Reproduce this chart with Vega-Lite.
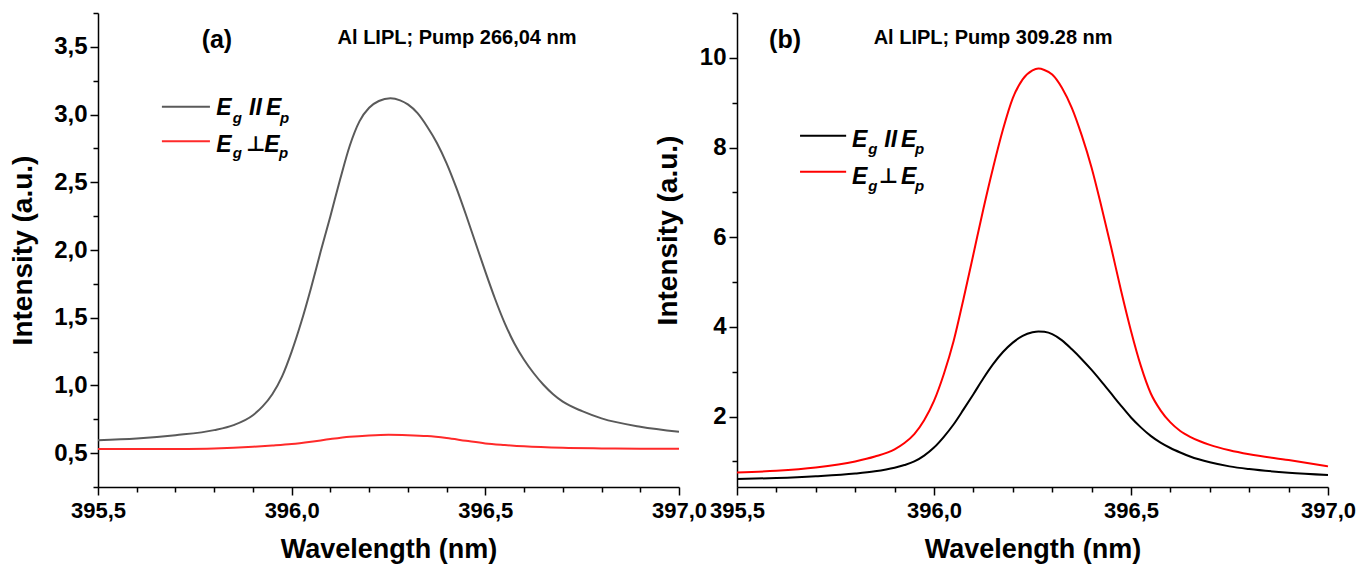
{
  "$schema": "https://vega.github.io/schema/vega-lite/v6.json",
  "background": "white",
  "padding": {"left": 9, "top": 1, "right": 5, "bottom": 2},
  "bounds": "flush",
  "spacing": 58,
  "resolve": {"scale": {"color": "independent", "x": "independent", "y": "independent"}},
  "config": {
    "view": {"stroke": null},
    "font": "Liberation Sans",
    "axis": {
      "grid": false,
      "domainColor": "black",
      "domainWidth": 1.5,
      "tickColor": "black",
      "tickWidth": 1.5,
      "labelFont": "Liberation Sans",
      "labelFontWeight": "bold",
      "labelFontSize": 24,
      "labelColor": "black",
      "labelFlush": false,
      "labelOverlap": false,
      "labelBound": false,
      "titleFont": "Liberation Sans",
      "titleFontWeight": "bold",
      "titleColor": "black"
    }
  },
  "datasets": {
    "a_curves": [
      {"wl": 395.5, "I": 0.596, "s": "par"}, {"wl": 395.6, "I": 0.609, "s": "par"}, {"wl": 395.7, "I": 0.633, "s": "par"},
      {"wl": 395.8, "I": 0.670, "s": "par"}, {"wl": 395.85, "I": 0.707, "s": "par"}, {"wl": 395.9, "I": 0.780, "s": "par"},
      {"wl": 395.925, "I": 0.845, "s": "par"}, {"wl": 395.95, "I": 0.935, "s": "par"}, {"wl": 395.975, "I": 1.065, "s": "par"},
      {"wl": 396.0, "I": 1.25, "s": "par"}, {"wl": 396.025, "I": 1.47, "s": "par"}, {"wl": 396.05, "I": 1.72, "s": "par"},
      {"wl": 396.075, "I": 1.99, "s": "par"}, {"wl": 396.1, "I": 2.25, "s": "par"}, {"wl": 396.125, "I": 2.52, "s": "par"},
      {"wl": 396.15, "I": 2.77, "s": "par"}, {"wl": 396.175, "I": 2.95, "s": "par"}, {"wl": 396.2, "I": 3.05, "s": "par"},
      {"wl": 396.225, "I": 3.10, "s": "par"}, {"wl": 396.255, "I": 3.12, "s": "par"}, {"wl": 396.28, "I": 3.105, "s": "par"},
      {"wl": 396.3, "I": 3.075, "s": "par"}, {"wl": 396.325, "I": 3.01, "s": "par"}, {"wl": 396.35, "I": 2.91, "s": "par"},
      {"wl": 396.375, "I": 2.79, "s": "par"}, {"wl": 396.4, "I": 2.64, "s": "par"}, {"wl": 396.425, "I": 2.46, "s": "par"},
      {"wl": 396.45, "I": 2.26, "s": "par"}, {"wl": 396.475, "I": 2.05, "s": "par"}, {"wl": 396.5, "I": 1.84, "s": "par"},
      {"wl": 396.525, "I": 1.64, "s": "par"}, {"wl": 396.55, "I": 1.46, "s": "par"}, {"wl": 396.575, "I": 1.31, "s": "par"},
      {"wl": 396.6, "I": 1.19, "s": "par"}, {"wl": 396.625, "I": 1.09, "s": "par"}, {"wl": 396.65, "I": 1.005, "s": "par"},
      {"wl": 396.675, "I": 0.935, "s": "par"}, {"wl": 396.7, "I": 0.88, "s": "par"}, {"wl": 396.75, "I": 0.81, "s": "par"},
      {"wl": 396.8, "I": 0.757, "s": "par"}, {"wl": 396.9, "I": 0.695, "s": "par"}, {"wl": 397.0, "I": 0.658, "s": "par"},
      {"wl": 395.5, "I": 0.530, "s": "perp"}, {"wl": 395.6, "I": 0.530, "s": "perp"}, {"wl": 395.7, "I": 0.531, "s": "perp"},
      {"wl": 395.8, "I": 0.535, "s": "perp"}, {"wl": 395.9, "I": 0.547, "s": "perp"}, {"wl": 395.95, "I": 0.556, "s": "perp"},
      {"wl": 396.0, "I": 0.567, "s": "perp"}, {"wl": 396.05, "I": 0.584, "s": "perp"}, {"wl": 396.1, "I": 0.604, "s": "perp"},
      {"wl": 396.15, "I": 0.621, "s": "perp"}, {"wl": 396.2, "I": 0.631, "s": "perp"}, {"wl": 396.25, "I": 0.636, "s": "perp"},
      {"wl": 396.3, "I": 0.633, "s": "perp"}, {"wl": 396.35, "I": 0.626, "s": "perp"}, {"wl": 396.4, "I": 0.611, "s": "perp"},
      {"wl": 396.45, "I": 0.591, "s": "perp"}, {"wl": 396.5, "I": 0.572, "s": "perp"}, {"wl": 396.55, "I": 0.560, "s": "perp"},
      {"wl": 396.6, "I": 0.550, "s": "perp"}, {"wl": 396.7, "I": 0.539, "s": "perp"}, {"wl": 396.8, "I": 0.535, "s": "perp"},
      {"wl": 396.9, "I": 0.533, "s": "perp"}, {"wl": 397.0, "I": 0.532, "s": "perp"}
    ],
    "b_curves": [
      {"wl": 395.5, "I": 0.606, "s": "par"}, {"wl": 395.6, "I": 0.63, "s": "par"}, {"wl": 395.7, "I": 0.67, "s": "par"},
      {"wl": 395.8, "I": 0.73, "s": "par"}, {"wl": 395.85, "I": 0.78, "s": "par"}, {"wl": 395.9, "I": 0.86, "s": "par"},
      {"wl": 395.925, "I": 0.92, "s": "par"}, {"wl": 395.95, "I": 1.0, "s": "par"}, {"wl": 395.975, "I": 1.13, "s": "par"},
      {"wl": 396.0, "I": 1.31, "s": "par"}, {"wl": 396.025, "I": 1.55, "s": "par"}, {"wl": 396.05, "I": 1.83, "s": "par"},
      {"wl": 396.075, "I": 2.16, "s": "par"}, {"wl": 396.1, "I": 2.5, "s": "par"}, {"wl": 396.125, "I": 2.85, "s": "par"},
      {"wl": 396.15, "I": 3.17, "s": "par"}, {"wl": 396.175, "I": 3.44, "s": "par"}, {"wl": 396.2, "I": 3.65, "s": "par"},
      {"wl": 396.225, "I": 3.80, "s": "par"}, {"wl": 396.25, "I": 3.88, "s": "par"}, {"wl": 396.265, "I": 3.90, "s": "par"},
      {"wl": 396.28, "I": 3.89, "s": "par"}, {"wl": 396.3, "I": 3.84, "s": "par"}, {"wl": 396.325, "I": 3.70, "s": "par"},
      {"wl": 396.35, "I": 3.50, "s": "par"}, {"wl": 396.375, "I": 3.28, "s": "par"}, {"wl": 396.4, "I": 3.04, "s": "par"},
      {"wl": 396.425, "I": 2.78, "s": "par"}, {"wl": 396.45, "I": 2.51, "s": "par"}, {"wl": 396.475, "I": 2.24, "s": "par"},
      {"wl": 396.5, "I": 1.98, "s": "par"}, {"wl": 396.525, "I": 1.76, "s": "par"}, {"wl": 396.55, "I": 1.57, "s": "par"},
      {"wl": 396.575, "I": 1.42, "s": "par"}, {"wl": 396.6, "I": 1.30, "s": "par"}, {"wl": 396.625, "I": 1.20, "s": "par"},
      {"wl": 396.65, "I": 1.11, "s": "par"}, {"wl": 396.7, "I": 0.98, "s": "par"}, {"wl": 396.75, "I": 0.89, "s": "par"},
      {"wl": 396.8, "I": 0.83, "s": "par"}, {"wl": 396.9, "I": 0.75, "s": "par"}, {"wl": 397.0, "I": 0.70, "s": "par"},
      {"wl": 395.5, "I": 0.753, "s": "perp"}, {"wl": 395.6, "I": 0.79, "s": "perp"}, {"wl": 395.7, "I": 0.864, "s": "perp"},
      {"wl": 395.8, "I": 1.0, "s": "perp"}, {"wl": 395.85, "I": 1.11, "s": "perp"}, {"wl": 395.9, "I": 1.27, "s": "perp"},
      {"wl": 395.925, "I": 1.41, "s": "perp"}, {"wl": 395.95, "I": 1.61, "s": "perp"}, {"wl": 395.975, "I": 1.92, "s": "perp"},
      {"wl": 396.0, "I": 2.35, "s": "perp"}, {"wl": 396.025, "I": 2.95, "s": "perp"}, {"wl": 396.05, "I": 3.69, "s": "perp"},
      {"wl": 396.075, "I": 4.63, "s": "perp"}, {"wl": 396.1, "I": 5.62, "s": "perp"}, {"wl": 396.125, "I": 6.62, "s": "perp"},
      {"wl": 396.15, "I": 7.55, "s": "perp"}, {"wl": 396.175, "I": 8.40, "s": "perp"}, {"wl": 396.2, "I": 9.1, "s": "perp"},
      {"wl": 396.225, "I": 9.52, "s": "perp"}, {"wl": 396.25, "I": 9.72, "s": "perp"}, {"wl": 396.265, "I": 9.76, "s": "perp"},
      {"wl": 396.28, "I": 9.73, "s": "perp"}, {"wl": 396.3, "I": 9.63, "s": "perp"}, {"wl": 396.325, "I": 9.33, "s": "perp"},
      {"wl": 396.35, "I": 8.88, "s": "perp"}, {"wl": 396.375, "I": 8.27, "s": "perp"}, {"wl": 396.4, "I": 7.55, "s": "perp"},
      {"wl": 396.425, "I": 6.68, "s": "perp"}, {"wl": 396.45, "I": 5.76, "s": "perp"}, {"wl": 396.475, "I": 4.80, "s": "perp"},
      {"wl": 396.5, "I": 3.91, "s": "perp"}, {"wl": 396.525, "I": 3.13, "s": "perp"}, {"wl": 396.55, "I": 2.52, "s": "perp"},
      {"wl": 396.575, "I": 2.14, "s": "perp"}, {"wl": 396.6, "I": 1.87, "s": "perp"}, {"wl": 396.625, "I": 1.68, "s": "perp"},
      {"wl": 396.65, "I": 1.55, "s": "perp"}, {"wl": 396.675, "I": 1.45, "s": "perp"}, {"wl": 396.7, "I": 1.37, "s": "perp"},
      {"wl": 396.75, "I": 1.25, "s": "perp"}, {"wl": 396.8, "I": 1.16, "s": "perp"}, {"wl": 396.9, "I": 1.03, "s": "perp"},
      {"wl": 397.0, "I": 0.89, "s": "perp"}
    ],
    "a_leg_lines": [
      {"s": "par", "wl": 395.665, "wl2": 395.789, "I": 3.058},
      {"s": "perp", "wl": 395.665, "wl2": 395.789, "I": 2.803}
    ],
    "a_leg_main": [
      {"t": "E", "wl": 395.805, "I": 3.052}, {"t": "II", "wl": 395.890, "I": 3.052}, {"t": "E", "wl": 395.934, "I": 3.052},
      {"t": "E", "wl": 395.805, "I": 2.779}, {"t": "E", "wl": 395.929, "I": 2.779}
    ],
    "a_leg_sym": [{"t": "⊥", "wl": 395.882, "I": 2.779}],
    "a_leg_sub": [
      {"t": "g", "wl": 395.848, "I": 2.975}, {"t": "p", "wl": 395.970, "I": 2.975},
      {"t": "g", "wl": 395.848, "I": 2.716}, {"t": "p", "wl": 395.967, "I": 2.716}
    ],
    "a_tag": [{"t": "(a)", "wl": 395.807, "I": 3.551}],
    "a_ann": [{"t": "Al LIPL; Pump 266,04 nm", "wl": 396.427, "I": 3.565}],
    "b_leg_lines": [
      {"s": "par", "wl": 395.66, "wl2": 395.777, "I": 8.265},
      {"s": "perp", "wl": 395.66, "wl2": 395.777, "I": 7.462}
    ],
    "b_leg_main": [
      {"t": "E", "wl": 395.792, "I": 8.169}, {"t": "II", "wl": 395.874, "I": 8.169}, {"t": "E", "wl": 395.916, "I": 8.169},
      {"t": "E", "wl": 395.792, "I": 7.343}, {"t": "E", "wl": 395.916, "I": 7.343}
    ],
    "b_leg_sym": [{"t": "⊥", "wl": 395.860, "I": 7.343}],
    "b_leg_sub": [
      {"t": "g", "wl": 395.833, "I": 7.968}, {"t": "p", "wl": 395.952, "I": 7.968},
      {"t": "g", "wl": 395.833, "I": 7.143}, {"t": "p", "wl": 395.952, "I": 7.143}
    ],
    "b_tag": [{"t": "(b)", "wl": 395.622, "I": 10.40}],
    "b_ann": [{"t": "Al LIPL; Pump 309.28 nm", "wl": 396.150, "I": 10.44}]
  },
  "hconcat": [
    {
      "width": 581,
      "height": 474,
      "encoding": {
        "x": {
          "field": "wl", "type": "quantitative",
          "scale": {"domain": [395.5, 397.0], "nice": false, "zero": false},
          "axis": {
            "title": "Wavelength (nm)",
            "titleFontSize": 27,
            "labelFontSize": 22,
            "values": [395.5, 395.6, 395.7, 395.8, 395.9, 396.0, 396.1, 396.2, 396.3, 396.4, 396.5, 396.6, 396.7, 396.8, 396.9, 397.0],
            "labelExpr": "abs(datum.value*2 - round(datum.value*2)) < 0.001 ? replace(format(datum.value, '.1f'), '.', ',') : ''",
            "tickSize": {"condition": {"test": "abs(datum.value*2 - round(datum.value*2)) < 0.001", "value": 8}, "value": 5},
            "labelPadding": 5,
            "titlePadding": 15
          }
        },
        "y": {
          "field": "I", "type": "quantitative",
          "scale": {"domain": [0.25, 3.75], "nice": false, "zero": false},
          "axis": {
            "title": "Intensity (a.u.)",
            "titleFontSize": 28,
            "values": [0.25, 0.5, 0.75, 1.0, 1.25, 1.5, 1.75, 2.0, 2.25, 2.5, 2.75, 3.0, 3.25, 3.5, 3.75],
            "labelExpr": "abs(datum.value*2 - round(datum.value*2)) < 0.001 ? replace(format(datum.value, '.1f'), '.', ',') : ''",
            "tickSize": {"condition": {"test": "abs(datum.value*2 - round(datum.value*2)) < 0.001", "value": 8}, "value": 5},
            "labelPadding": 3,
            "titlePadding": 16
          }
        }
      },
      "layer": [
        {
          "data": {"name": "a_curves"},
          "mark": {"type": "line", "strokeWidth": 2, "interpolate": "monotone"},
          "encoding": {
            "color": {
              "field": "s", "type": "nominal",
              "scale": {"domain": ["par", "perp"], "range": ["#5a5a5a", "#ff2a2a"]},
              "legend": null
            }
          }
        },
        {
          "data": {"name": "a_leg_lines"},
          "mark": {"type": "rule", "strokeWidth": 2},
          "encoding": {
            "x2": {"field": "wl2"},
            "color": {"field": "s", "type": "nominal", "legend": null}
          }
        },
        {
          "data": {"name": "a_leg_main"},
          "mark": {"type": "text", "align": "left", "baseline": "middle", "fontSize": 23, "fontWeight": "bold", "fontStyle": "italic", "font": "Liberation Sans", "color": "black"},
          "encoding": {"text": {"field": "t"}}
        },
        {
          "data": {"name": "a_leg_sym"},
          "mark": {"type": "text", "align": "left", "baseline": "middle", "fontSize": 21, "fontWeight": "bold", "font": "DejaVu Sans", "color": "black"},
          "encoding": {"text": {"field": "t"}}
        },
        {
          "data": {"name": "a_leg_sub"},
          "mark": {"type": "text", "align": "left", "baseline": "middle", "fontSize": 15, "fontWeight": "bold", "fontStyle": "italic", "font": "Liberation Sans", "color": "black"},
          "encoding": {"text": {"field": "t"}}
        },
        {
          "data": {"name": "a_tag"},
          "mark": {"type": "text", "align": "center", "baseline": "middle", "fontSize": 25, "fontWeight": "bold", "font": "Liberation Sans", "color": "black"},
          "encoding": {"text": {"field": "t"}}
        },
        {
          "data": {"name": "a_ann"},
          "mark": {"type": "text", "align": "center", "baseline": "middle", "fontSize": 20, "fontWeight": "bold", "font": "Liberation Sans", "color": "black"},
          "encoding": {"text": {"field": "t"}}
        }
      ]
    },
    {
      "width": 591,
      "height": 474,
      "encoding": {
        "x": {
          "field": "wl", "type": "quantitative",
          "scale": {"domain": [395.5, 397.0], "nice": false, "zero": false},
          "axis": {
            "title": "Wavelength (nm)",
            "titleFontSize": 27,
            "labelFontSize": 22,
            "values": [395.5, 395.6, 395.7, 395.8, 395.9, 396.0, 396.1, 396.2, 396.3, 396.4, 396.5, 396.6, 396.7, 396.8, 396.9, 397.0],
            "labelExpr": "abs(datum.value*2 - round(datum.value*2)) < 0.001 ? replace(format(datum.value, '.1f'), '.', ',') : ''",
            "tickSize": {"condition": {"test": "abs(datum.value*2 - round(datum.value*2)) < 0.001", "value": 8}, "value": 5},
            "labelPadding": 5,
            "titlePadding": 15
          }
        },
        "y": {
          "field": "I", "type": "quantitative",
          "scale": {"domain": [0.43, 11.0], "nice": false, "zero": false},
          "axis": {
            "title": "Intensity (a.u.)",
            "titleFontSize": 28,
            "titleY": 217,
            "values": [1, 2, 3, 4, 5, 6, 7, 8, 9, 10, 11],
            "labelExpr": "datum.value % 2 == 0 ? format(datum.value, 'd') : ''",
            "tickSize": {"condition": {"test": "datum.value % 2 == 0", "value": 8}, "value": 5},
            "labelPadding": 3,
            "titlePadding": 17
          }
        }
      },
      "layer": [
        {
          "data": {"name": "b_curves"},
          "mark": {"type": "line", "strokeWidth": 2, "interpolate": "monotone"},
          "encoding": {
            "color": {
              "field": "s", "type": "nominal",
              "scale": {"domain": ["par", "perp"], "range": ["#000000", "#ff0000"]},
              "legend": null
            }
          }
        },
        {
          "data": {"name": "b_leg_lines"},
          "mark": {"type": "rule", "strokeWidth": 2},
          "encoding": {
            "x2": {"field": "wl2"},
            "color": {"field": "s", "type": "nominal", "legend": null}
          }
        },
        {
          "data": {"name": "b_leg_main"},
          "mark": {"type": "text", "align": "left", "baseline": "middle", "fontSize": 23, "fontWeight": "bold", "fontStyle": "italic", "font": "Liberation Sans", "color": "black"},
          "encoding": {"text": {"field": "t"}}
        },
        {
          "data": {"name": "b_leg_sym"},
          "mark": {"type": "text", "align": "left", "baseline": "middle", "fontSize": 21, "fontWeight": "bold", "font": "DejaVu Sans", "color": "black"},
          "encoding": {"text": {"field": "t"}}
        },
        {
          "data": {"name": "b_leg_sub"},
          "mark": {"type": "text", "align": "left", "baseline": "middle", "fontSize": 15, "fontWeight": "bold", "fontStyle": "italic", "font": "Liberation Sans", "color": "black"},
          "encoding": {"text": {"field": "t"}}
        },
        {
          "data": {"name": "b_tag"},
          "mark": {"type": "text", "align": "center", "baseline": "middle", "fontSize": 25, "fontWeight": "bold", "font": "Liberation Sans", "color": "black"},
          "encoding": {"text": {"field": "t"}}
        },
        {
          "data": {"name": "b_ann"},
          "mark": {"type": "text", "align": "center", "baseline": "middle", "fontSize": 20, "fontWeight": "bold", "font": "Liberation Sans", "color": "black"},
          "encoding": {"text": {"field": "t"}}
        }
      ]
    }
  ]
}
